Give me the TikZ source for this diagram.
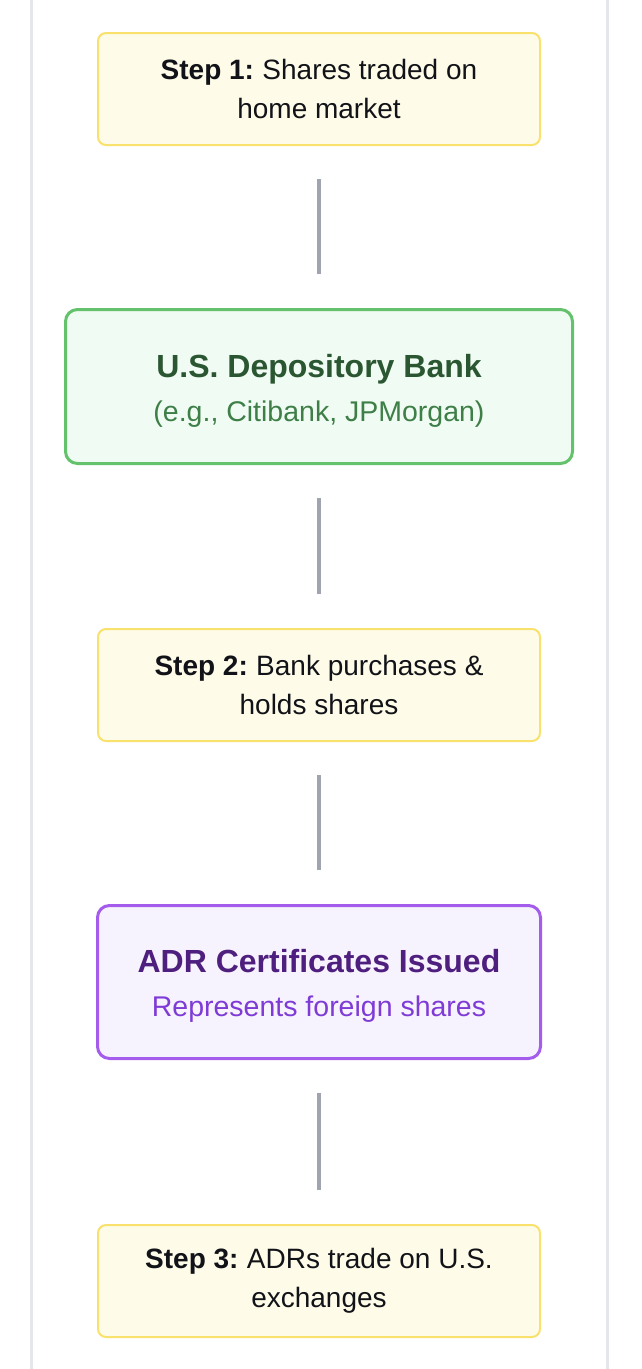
\documentclass[tikz,border=0pt]{standalone}
\usepackage{fontspec}
\setmainfont{Liberation Sans}
\definecolor{ybg}{HTML}{FEFCE8}
\definecolor{ybd}{HTML}{F8E16C}
\definecolor{gbg}{HTML}{F0FCF3}
\definecolor{gbd}{HTML}{63C26B}
\definecolor{gtt}{HTML}{2A5632}
\definecolor{gst}{HTML}{3E7E47}
\definecolor{pbg}{HTML}{F7F3FE}
\definecolor{pbd}{HTML}{A35CEB}
\definecolor{ptt}{HTML}{4E1F7E}
\definecolor{pst}{HTML}{7E3BD6}
\definecolor{conn}{HTML}{A0A4AE}
\definecolor{side}{HTML}{E5E6EA}
\definecolor{txt}{HTML}{111318}
\tikzset{
  stepbox/.style={draw=ybd, fill=ybg, line width=2pt, rounded corners=8pt,
    minimum width=442pt, minimum height=112pt, align=center, text=txt,
    font=\fontsize{28}{39}\selectfont, inner sep=0pt},
  bankbox/.style={draw=gbd, fill=gbg, line width=3pt, rounded corners=12pt,
    minimum width=507pt, minimum height=154pt, align=center, inner sep=0pt,
    font=\fontsize{28.5}{44}\selectfont},
  adrbox/.style={draw=pbd, fill=pbg, line width=3pt, rounded corners=12pt,
    minimum width=443pt, minimum height=153pt, align=center, inner sep=0pt,
    font=\fontsize{28.5}{44}\selectfont},
  link/.style={draw=conn, line width=3.5pt, shorten <=33pt, shorten >=34pt}
}
\begin{document}
\begin{tikzpicture}[x=1pt,y=-1pt]
\useasboundingbox (0,0) rectangle (641,1369);
\fill[white] (0,0) rectangle (641,1369);
\draw[side, line width=3pt] (31.5,0) -- (31.5,1369);
\draw[side, line width=3pt] (607.5,0) -- (607.5,1369);

\node[stepbox] (s1) at (319,89) {\textbf{Step 1:}\hspace{-2pt} Shares traded on\\home market};
\node[bankbox] (bank) at (319,386.5) {\rule{0pt}{31pt}\textcolor{gtt}{\fontsize{32}{44}\selectfont\bfseries U.S. Depository Bank}\\\textcolor{gst}{(e.g., Citibank, JPMorgan)}};
\node[stepbox] (s2) at (319,685) {\textbf{Step 2:}\hspace{-2pt} Bank purchases \&\\holds shares};
\node[adrbox] (adr) at (319,982) {\rule{0pt}{31pt}\textcolor{ptt}{\fontsize{32}{44}\selectfont\bfseries ADR Certificates Issued}\\\textcolor{pst}{Represents foreign shares}};
\node[stepbox] (s3) at (319,1281) {\textbf{Step 3:}\hspace{-2pt} ADRs trade on U.S.\\exchanges};

\draw[link] (s1.south) -- (bank.north);
\draw[link] (bank.south) -- (s2.north);
\draw[link] (s2.south) -- (adr.north);
\draw[link] (adr.south) -- (s3.north);
\end{tikzpicture}
\end{document}
